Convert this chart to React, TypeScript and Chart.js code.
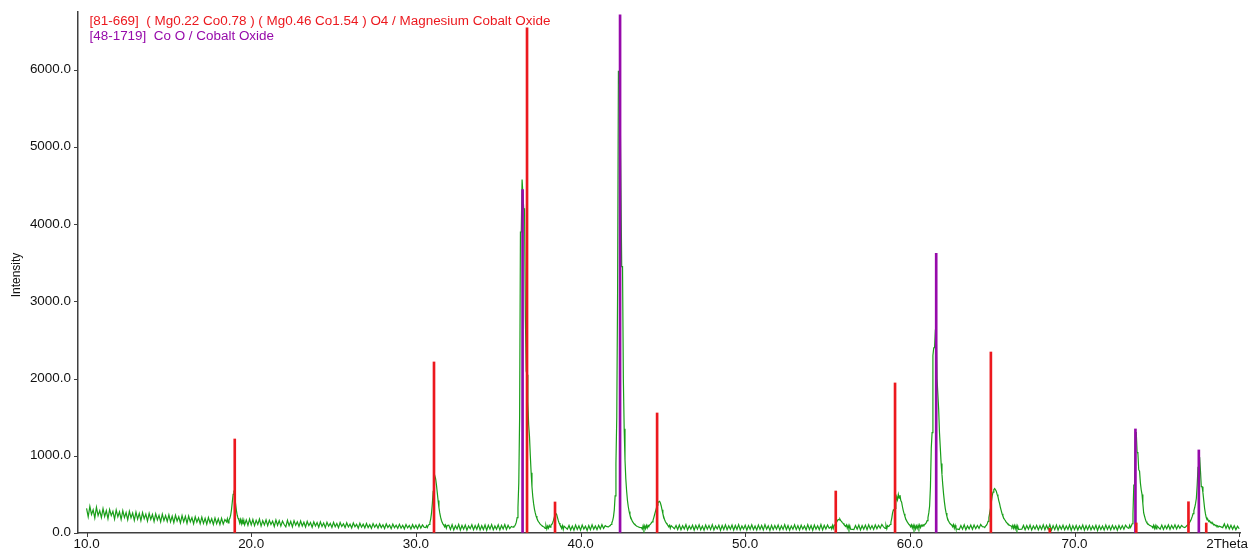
import React, { useEffect, useRef } from "react";
import { Chart, registerables } from "chart.js";

Chart.register(...registerables);

// ---------- reference stick patterns ----------
const mgCoOxidePositions = [19.0, 31.1, 36.75, 38.45, 44.65, 55.5, 59.1, 64.92, 68.5, 73.75, 76.92, 78.0];
const mgCoOxideIntensities = [1218, 2216, 6544, 402, 1555, 544, 1944, 2345, 60, 130, 405, 130];
const coOxidePositions = [36.48, 42.4, 61.6, 73.7, 77.55];
const coOxideIntensities = [4450, 6712, 3624, 1348, 1076];

const patternLabels = [
  "[81-669]  ( Mg0.22 Co0.78 ) ( Mg0.46 Co1.54 ) O4 / Magnesium Cobalt Oxide",
  "[48-1719]  Co O / Cobalt Oxide",
];

// ---------- axis text ----------
const yTickValues = [0, 1000, 2000, 3000, 4000, 5000, 6000];
const xTickValues = [10, 20, 30, 40, 50, 60, 70, 80];
const xEndLabel = "2Theta";
const yTitle = "Intensity";

// ---------- measured scan (segments: start, step, counts) ----------
const scanStarts = [10.0, 18.5, 19.7, 30.6, 32.0, 35.9, 39.2, 41.7, 43.7, 45.7, 55.2, 56.6, 58.5, 63.0, 64.5, 66.8, 73.3, 75.2, 76.7, 79.0];
const scanSteps = [0.1, 0.05, 0.1, 0.05, 0.1, 0.05, 0.1, 0.05, 0.05, 0.1, 0.05, 0.1, 0.05, 0.1, 0.05, 0.1, 0.05, 0.1, 0.05, 0.1];

const seg01 = [
  320, 210, 345, 240, 300, 195, 335, 225, 290, 200,
  315, 215, 290, 185, 305, 225, 280, 180, 300, 210,
  275, 175, 290, 200, 265, 170, 280, 195, 260, 165,
  270, 180, 255, 160, 265, 185, 245, 155, 255, 175,
  240, 150, 250, 170, 230, 145, 245, 160, 225, 150,
  235, 145, 220, 135, 230, 155, 210, 130, 225, 145,
  215, 125, 220, 145, 200, 120, 210, 140, 195, 120,
  205, 125, 190, 115, 200, 130, 185, 110, 195, 120,
  185, 110, 190, 115, 175,
];
const seg02 = [145, 185, 130, 170, 190, 230, 300, 400, 500, 550, 480, 380, 290, 230, 190, 170, 130, 175, 120, 170, 110, 165, 105];
const seg03 = [
  170, 100, 180,
  105, 175, 95, 165, 110, 180, 90, 160, 105, 170,
  95, 165, 110, 155, 85, 170, 100, 160, 90, 155,
  110, 80, 165, 95, 150, 80, 160, 100, 145, 85,
  155, 90, 140, 78, 150, 95, 135, 75, 145, 90,
  135, 75, 145, 85, 130, 70, 140, 88, 125, 72,
  138, 80, 122, 68, 135, 85, 120, 70, 132, 78,
  115, 65, 130, 80, 112, 62, 126, 75, 114, 66,
  124, 70, 108, 60, 122, 75, 110, 62, 118, 70,
  106, 58, 118, 70, 104, 56, 116, 68, 100, 60,
  112, 62, 100, 54, 110, 66, 98, 52, 108, 62,
  102, 56, 110, 64, 104, 75,
];
const seg04 = [70, 95, 72, 100, 110, 135, 180, 260, 380, 540, 680, 740, 700, 620, 520, 420, 330, 260, 205, 165, 135, 115, 100, 80, 104, 62, 96];
const seg05 = [
  100, 45, 108, 40, 95, 52, 110, 38, 98, 50,
  104, 36, 92, 55, 106, 42, 96, 48, 110, 40,
  95, 45, 104, 35, 100, 50, 108, 42, 92, 48,
  106, 40, 98, 52, 110, 46, 100, 58, 85,
];
const seg06 = [
  75, 85, 90, 110, 140, 200, 330, 650, 1500, 3900, 3900, 4580, 4580, 4200, 4200, 2800, 2100, 2050, 1700, 1400,
  1250, 1000, 780, 600, 470, 380, 310, 260, 220, 190, 165, 145, 130, 115, 105, 95, 88, 80, 75,
  58, 95, 50, 88, 62, 98, 75, 100, 110, 130, 160, 200, 240, 255, 240, 200, 160, 130, 105, 90, 60, 95, 45, 90,
];
const seg07 = [
  50, 98, 38, 90, 35, 102, 45, 92,
  36, 104, 50, 88, 34, 98, 42, 106, 48, 92,
  44, 100, 52, 108, 60, 95, 82,
];
const seg08 = [80, 90, 95, 110, 130, 160, 210, 300, 480, 900, 1500, 3100, 5980, 5980, 5620, 5620, 3450, 3450, 2000, 1350, 950, 700, 540, 420, 340, 280, 235, 200, 175, 150, 135, 120, 110, 100, 92, 85, 80, 75, 72];
const seg09 = [70, 50, 95, 48, 92, 55, 98, 65, 100, 90, 105, 115, 130, 145, 165, 200, 240, 280, 320, 360, 390, 405, 410, 390, 350, 300, 250, 210, 175, 150, 130, 115, 100, 80, 100, 60, 95];
const seg10 = [
  55, 98, 45,
  104, 42, 95, 52, 108, 40, 92, 50, 100, 38,
  98, 50, 106, 42, 90, 36, 104, 48, 96, 44,
  108, 40, 92, 52, 100, 34, 98, 46, 106, 42,
  94, 48, 104, 38, 98, 46, 108, 40, 92, 50,
  100, 36, 96, 48, 106, 44, 90, 38, 104, 46,
  98, 40, 108, 48, 92, 34, 100, 44, 96, 50,
  104, 38, 94, 46, 108, 42, 98, 36, 92, 48,
  106, 44, 96, 38, 100, 50, 92, 40, 108, 46,
  98, 36, 104, 48, 94, 42, 110, 40, 98, 52,
  104, 60,
];
const seg11 = [80, 52, 98, 60, 102, 105, 120, 140, 160, 175, 170, 180, 160, 150, 135, 125, 110, 100, 85, 105, 62, 98, 55, 95, 50];
const seg12 = [45, 98, 50, 104, 40, 95, 48, 102, 44, 106, 52, 96, 46, 104, 55, 100, 62, 110, 80];
const seg13 = [
  60, 98, 55, 96, 85, 90, 110, 140, 190, 260, 300, 290, 320, 400, 470, 430, 500, 450, 490, 420,
  400, 340, 290, 250, 215, 185, 160, 140, 125, 110, 100, 80, 105, 65, 100, 55, 96, 52, 92,
  60, 100, 62, 104, 70, 100, 88, 108, 98, 110, 120, 135, 160, 200, 260, 350, 600, 1100, 1300, 2300,
  2400, 2400, 2630, 2630, 2000, 2000, 1600, 1300, 1100, 900, 760, 620, 500, 400, 320, 260, 215, 180, 155, 135,
  120, 110, 100, 80, 108, 62, 100, 55,
];
const seg14 = [46, 98, 50, 106, 42, 92, 54, 102, 48, 104, 56, 98, 60, 110, 82];
const seg15 = [80, 70, 90, 100, 120, 150, 200, 260, 320, 400, 480, 530, 560, 575, 560, 540, 500, 470, 420, 380, 330, 290, 250, 220, 195, 175, 160, 140, 130, 115, 110, 100, 95, 92, 75, 100, 62, 98, 55, 94, 50, 92, 48];
const seg16 = [
  50, 98,
  42, 96, 48, 104, 38, 92, 50, 100, 40, 94,
  46, 106, 42, 98, 48, 108, 38, 96, 44, 102,
  36, 94, 48, 100, 40, 92, 46, 104, 34, 96,
  44, 98, 38, 90, 48, 102, 36, 94, 43, 99,
  40, 92, 46, 100, 33, 96, 44, 90, 38, 102,
  46, 94, 40, 99, 48, 92, 36, 98, 50, 96,
  48, 102, 72,
];
const seg17 = [60, 100, 70, 90, 120, 250, 620, 620, 1300, 1300, 1050, 1030, 820, 800, 650, 560, 500, 380, 260, 220, 180, 150, 130, 120, 110, 100, 95, 90, 85, 70, 100, 58, 96, 52, 94];
const seg18 = [50, 102, 46, 96, 54, 104, 48, 99, 56, 106, 52, 100, 60, 98, 78];
const seg19 = [70, 80, 90, 100, 110, 125, 140, 160, 185, 215, 250, 290, 330, 380, 450, 620, 850, 990, 980, 800, 600, 600, 520, 420, 320, 250, 200, 170, 175, 150, 160, 135, 140, 120, 125, 105, 110, 95, 100, 85, 92, 80, 88];
const seg20 = [70, 118, 60, 108, 52, 100, 48, 95, 42, 88, 55];

const scanSegments = [seg01, seg02, seg03, seg04, seg05, seg06, seg07, seg08, seg09, seg10, seg11, seg12, seg13, seg14, seg15, seg16, seg17, seg18, seg19, seg20];

const FONT = '"Liberation Sans", Arial, sans-serif';
const STRETCH = 1.12;
const AXIS_COLOR = "#3f3f3f";
const RED = "rgb(236, 24, 30)";
const PURPLE = "rgb(150, 10, 170)";
const GREEN = "rgb(24, 158, 24)";

function buildScan() {
  const pts: { x: number; y: number }[] = [];
  scanSegments.forEach((seg, s) => {
    seg.forEach((v, i) => {
      pts.push({ x: +(scanStarts[s] + i * scanSteps[s]).toFixed(3), y: v });
    });
  });
  pts.sort((a, b) => a.x - b.x);
  return pts;
}

function drawStretched(ctx: CanvasRenderingContext2D, text: string, x: number, y: number, align: CanvasTextAlign, baseline: CanvasTextBaseline, color: string) {
  ctx.save();
  ctx.translate(x, y);
  ctx.scale(STRETCH, 1);
  ctx.textAlign = align;
  ctx.textBaseline = baseline;
  ctx.fillStyle = color;
  ctx.fillText(text, 0, 0);
  ctx.restore();
}

const textPlugin = {
  id: "xrdText",
  afterDraw(chart: any) {
    const ctx: CanvasRenderingContext2D = chart.ctx;
    const xs = chart.scales.x;
    const ys = chart.scales.y;
    const area = chart.chartArea;
    ctx.save();
    // tick marks
    ctx.strokeStyle = AXIS_COLOR;
    ctx.lineWidth = 1;
    ctx.beginPath();
    yTickValues.forEach((v) => {
      const py = Math.round(ys.getPixelForValue(v)) + 0.5;
      ctx.moveTo(area.left - 4, py);
      ctx.lineTo(area.left, py);
    });
    xTickValues.forEach((v) => {
      const px = Math.round(xs.getPixelForValue(v)) + 0.5;
      ctx.moveTo(px, area.bottom);
      ctx.lineTo(px, area.bottom + 4);
    });
    ctx.stroke();

    ctx.font = `12px ${FONT}`;
    yTickValues.forEach((v) => {
      drawStretched(ctx, v.toFixed(1), 71, ys.getPixelForValue(v), "right", "middle", "#111");
    });
    xTickValues.forEach((v) => {
      const px = xs.getPixelForValue(v);
      if (v === 80) {
        drawStretched(ctx, xEndLabel, 1248, 548, "right", "alphabetic", "#111");
      } else {
        drawStretched(ctx, v.toFixed(1), px, 548, "center", "alphabetic", "#111");
      }
    });
    ctx.save();
    ctx.translate(16, 275);
    ctx.scale(STRETCH, 1);
    ctx.rotate(-Math.PI / 2);
    ctx.textAlign = "center";
    ctx.textBaseline = "middle";
    ctx.fillStyle = "#111";
    ctx.fillText(yTitle, 0, 0);
    ctx.restore();
    drawStretched(ctx, patternLabels[0], 89.5, 25, "left", "alphabetic", RED);
    drawStretched(ctx, patternLabels[1], 89.5, 40, "left", "alphabetic", PURPLE);
    ctx.restore();
  },
};

export default function App() {
  const ref = useRef<HTMLCanvasElement | null>(null);
  useEffect(() => {
    if (!ref.current) return;
    const scan = buildScan();
    const chart = new Chart(ref.current, {
      type: "line",
      data: {
        datasets: [
          {
            type: "bar",
            label: "Mg Co Oxide",
            data: mgCoOxidePositions.map((x, i) => ({ x, y: mgCoOxideIntensities[i] })),
            backgroundColor: RED,
            borderWidth: 0,
            barThickness: 2,
            grouped: false,
            order: 0,
          } as any,
          {
            type: "bar",
            label: "Co O",
            data: coOxidePositions.map((x, i) => ({ x, y: coOxideIntensities[i] })),
            backgroundColor: PURPLE,
            borderWidth: 0,
            barThickness: 2,
            grouped: false,
            order: 1,
          } as any,
          {
            type: "line",
            label: "scan",
            data: scan,
            borderColor: GREEN,
            borderWidth: 1.2,
            pointRadius: 0,
            tension: 0,
            fill: false,
            order: 2,
          } as any,
        ],
      },
      options: {
        animation: false,
        responsive: false,
        devicePixelRatio: 1,
        layout: { padding: { top: 12, right: 9, left: 0, bottom: 0 } },
        plugins: { legend: { display: false }, tooltip: { enabled: false } },
        scales: {
          x: {
            type: "linear",
            min: 9.48,
            max: 80.05,
            offset: false,
            afterFit: (s: any) => {
              s.height = 15;
            },
            ticks: { display: false, stepSize: 10, includeBounds: false },
            grid: { offset: false, display: true, drawOnChartArea: false, drawTicks: false, tickLength: 0 },
            border: { display: true, color: AXIS_COLOR, width: 1.5 },
          },
          y: {
            type: "linear",
            min: 0,
            max: 6750,
            offset: false,
            afterFit: (s: any) => {
              s.width = 78;
            },
            ticks: { display: false, stepSize: 1000, includeBounds: false },
            grid: { offset: false, display: true, drawOnChartArea: false, drawTicks: false, tickLength: 0 },
            border: { display: true, color: AXIS_COLOR, width: 1.5 },
          },
        },
      } as any,
      plugins: [textPlugin],
    });
    return () => chart.destroy();
  }, []);
  return (
    <div style={{ position: "fixed", left: 0, top: 0, width: 1249, height: 548, background: "#fff" }}>
      <canvas ref={ref} width={1249} height={548} style={{ display: "block" }} />
    </div>
  );
}
